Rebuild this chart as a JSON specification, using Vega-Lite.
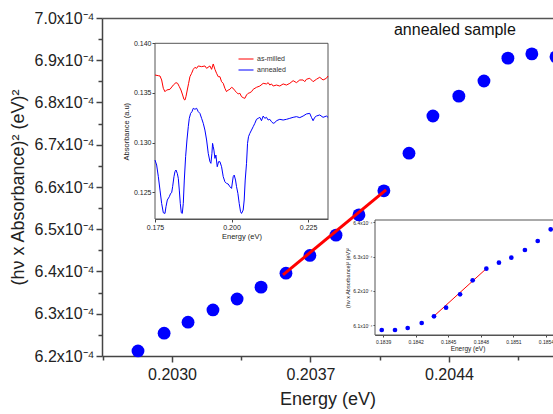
{
  "$schema": "https://vega.github.io/schema/vega-lite/v6.json",
  "width": 451,
  "height": 338,
  "autosize": {"type": "none"},
  "padding": {"left": 102, "top": 18, "right": 0, "bottom": 58},
  "background": "white",
  "config": {
    "font": "Liberation Sans",
    "view": {"stroke": null},
    "axis": {"grid": false, "labelFont": "Liberation Sans", "titleFont": "Liberation Sans", "titleFontWeight": "normal", "domainColor": "#444", "tickColor": "#444", "labelColor": "#222", "titleColor": "#222", "labelFlush": false, "labelOverlap": false}
  },
  "datasets": {
    "main": [
      {"E": 0.202828, "V": 0.0006212},
      {"E": 0.202960, "V": 0.0006254},
      {"E": 0.203081, "V": 0.0006280},
      {"E": 0.203207, "V": 0.0006309},
      {"E": 0.203329, "V": 0.0006335},
      {"E": 0.203450, "V": 0.0006363},
      {"E": 0.203576, "V": 0.0006396},
      {"E": 0.203697, "V": 0.0006438},
      {"E": 0.203829, "V": 0.0006486},
      {"E": 0.203945, "V": 0.0006534},
      {"E": 0.204071, "V": 0.0006591},
      {"E": 0.204198, "V": 0.0006680},
      {"E": 0.204319, "V": 0.0006768},
      {"E": 0.204450, "V": 0.0006815},
      {"E": 0.204577, "V": 0.0006851},
      {"E": 0.204698, "V": 0.0006905},
      {"E": 0.204819, "V": 0.0006915},
      {"E": 0.204941, "V": 0.0006908}
    ],
    "mainfit": [
      {"E": 0.203561, "V": 0.0006392},
      {"E": 0.204082, "V": 0.0006593}
    ],
    "inset2": [
      {"E": 0.183888, "V": 0.00060857},
      {"E": 0.184010, "V": 0.00060857},
      {"E": 0.184127, "V": 0.00060915},
      {"E": 0.184256, "V": 0.00061061},
      {"E": 0.184369, "V": 0.00061257},
      {"E": 0.184480, "V": 0.00061509},
      {"E": 0.184609, "V": 0.00061901},
      {"E": 0.184725, "V": 0.00062310},
      {"E": 0.184851, "V": 0.00062649},
      {"E": 0.184967, "V": 0.00062825},
      {"E": 0.185081, "V": 0.00062971},
      {"E": 0.185206, "V": 0.00063196},
      {"E": 0.185324, "V": 0.00063459},
      {"E": 0.185443, "V": 0.00063801}
    ],
    "inset2fit": [
      {"E": 0.184363, "V": 0.00061246},
      {"E": 0.184854, "V": 0.00062661}
    ],
    "absorb": [
      {"sample": "as-milled", "E": 0.17500, "A": 0.13681},
      {"sample": "as-milled", "E": 0.17609, "A": 0.13674},
      {"sample": "as-milled", "E": 0.17663, "A": 0.13671},
      {"sample": "as-milled", "E": 0.17717, "A": 0.13631},
      {"sample": "as-milled", "E": 0.17772, "A": 0.13547},
      {"sample": "as-milled", "E": 0.17826, "A": 0.13513},
      {"sample": "as-milled", "E": 0.17880, "A": 0.13530},
      {"sample": "as-milled", "E": 0.17989, "A": 0.13537},
      {"sample": "as-milled", "E": 0.18098, "A": 0.13580},
      {"sample": "as-milled", "E": 0.18185, "A": 0.13604},
      {"sample": "as-milled", "E": 0.18239, "A": 0.13597},
      {"sample": "as-milled", "E": 0.18294, "A": 0.13564},
      {"sample": "as-milled", "E": 0.18348, "A": 0.13530},
      {"sample": "as-milled", "E": 0.18402, "A": 0.13480},
      {"sample": "as-milled", "E": 0.18446, "A": 0.13436},
      {"sample": "as-milled", "E": 0.18478, "A": 0.13429},
      {"sample": "as-milled", "E": 0.18511, "A": 0.13463},
      {"sample": "as-milled", "E": 0.18554, "A": 0.13530},
      {"sample": "as-milled", "E": 0.18598, "A": 0.13597},
      {"sample": "as-milled", "E": 0.18641, "A": 0.13664},
      {"sample": "as-milled", "E": 0.18696, "A": 0.13698},
      {"sample": "as-milled", "E": 0.18750, "A": 0.13738},
      {"sample": "as-milled", "E": 0.18804, "A": 0.13758},
      {"sample": "as-milled", "E": 0.18859, "A": 0.13748},
      {"sample": "as-milled", "E": 0.18913, "A": 0.13772},
      {"sample": "as-milled", "E": 0.19022, "A": 0.13765},
      {"sample": "as-milled", "E": 0.19130, "A": 0.13772},
      {"sample": "as-milled", "E": 0.19185, "A": 0.13748},
      {"sample": "as-milled", "E": 0.19294, "A": 0.13772},
      {"sample": "as-milled", "E": 0.19348, "A": 0.13738},
      {"sample": "as-milled", "E": 0.19402, "A": 0.13792},
      {"sample": "as-milled", "E": 0.19457, "A": 0.13738},
      {"sample": "as-milled", "E": 0.19511, "A": 0.13698},
      {"sample": "as-milled", "E": 0.19565, "A": 0.13664},
      {"sample": "as-milled", "E": 0.19620, "A": 0.13664},
      {"sample": "as-milled", "E": 0.19674, "A": 0.13614},
      {"sample": "as-milled", "E": 0.19728, "A": 0.13597},
      {"sample": "as-milled", "E": 0.19783, "A": 0.13547},
      {"sample": "as-milled", "E": 0.19837, "A": 0.13513},
      {"sample": "as-milled", "E": 0.19891, "A": 0.13530},
      {"sample": "as-milled", "E": 0.19946, "A": 0.13537},
      {"sample": "as-milled", "E": 0.20000, "A": 0.13557},
      {"sample": "as-milled", "E": 0.20054, "A": 0.13547},
      {"sample": "as-milled", "E": 0.20109, "A": 0.13523},
      {"sample": "as-milled", "E": 0.20163, "A": 0.13507},
      {"sample": "as-milled", "E": 0.20217, "A": 0.13490},
      {"sample": "as-milled", "E": 0.20272, "A": 0.13497},
      {"sample": "as-milled", "E": 0.20326, "A": 0.13463},
      {"sample": "as-milled", "E": 0.20380, "A": 0.13453},
      {"sample": "as-milled", "E": 0.20435, "A": 0.13446},
      {"sample": "as-milled", "E": 0.20489, "A": 0.13480},
      {"sample": "as-milled", "E": 0.20543, "A": 0.13497},
      {"sample": "as-milled", "E": 0.20598, "A": 0.13503},
      {"sample": "as-milled", "E": 0.20652, "A": 0.13513},
      {"sample": "as-milled", "E": 0.20707, "A": 0.13537},
      {"sample": "as-milled", "E": 0.20815, "A": 0.13557},
      {"sample": "as-milled", "E": 0.20924, "A": 0.13570},
      {"sample": "as-milled", "E": 0.21033, "A": 0.13597},
      {"sample": "as-milled", "E": 0.21141, "A": 0.13591},
      {"sample": "as-milled", "E": 0.21196, "A": 0.13604},
      {"sample": "as-milled", "E": 0.21250, "A": 0.13580},
      {"sample": "as-milled", "E": 0.21304, "A": 0.13591},
      {"sample": "as-milled", "E": 0.21359, "A": 0.13570},
      {"sample": "as-milled", "E": 0.21467, "A": 0.13580},
      {"sample": "as-milled", "E": 0.21576, "A": 0.13570},
      {"sample": "as-milled", "E": 0.21685, "A": 0.13591},
      {"sample": "as-milled", "E": 0.21794, "A": 0.13580},
      {"sample": "as-milled", "E": 0.21902, "A": 0.13597},
      {"sample": "as-milled", "E": 0.22011, "A": 0.13624},
      {"sample": "as-milled", "E": 0.22120, "A": 0.13604},
      {"sample": "as-milled", "E": 0.22228, "A": 0.13631},
      {"sample": "as-milled", "E": 0.22337, "A": 0.13631},
      {"sample": "as-milled", "E": 0.22391, "A": 0.13614},
      {"sample": "as-milled", "E": 0.22446, "A": 0.13638},
      {"sample": "as-milled", "E": 0.22554, "A": 0.13648},
      {"sample": "as-milled", "E": 0.22663, "A": 0.13614},
      {"sample": "as-milled", "E": 0.22772, "A": 0.13638},
      {"sample": "as-milled", "E": 0.22880, "A": 0.13658},
      {"sample": "as-milled", "E": 0.22989, "A": 0.13631},
      {"sample": "as-milled", "E": 0.23098, "A": 0.13648},
      {"sample": "as-milled", "E": 0.23152, "A": 0.13671},
      {"sample": "annealed", "E": 0.17500, "A": 0.12825},
      {"sample": "annealed", "E": 0.17554, "A": 0.12775},
      {"sample": "annealed", "E": 0.17609, "A": 0.12658},
      {"sample": "annealed", "E": 0.17663, "A": 0.12523},
      {"sample": "annealed", "E": 0.17717, "A": 0.12389},
      {"sample": "annealed", "E": 0.17772, "A": 0.12295},
      {"sample": "annealed", "E": 0.17826, "A": 0.12288},
      {"sample": "annealed", "E": 0.17859, "A": 0.12356},
      {"sample": "annealed", "E": 0.17902, "A": 0.12423},
      {"sample": "annealed", "E": 0.17967, "A": 0.12456},
      {"sample": "annealed", "E": 0.18011, "A": 0.12490},
      {"sample": "annealed", "E": 0.18044, "A": 0.12497},
      {"sample": "annealed", "E": 0.18076, "A": 0.12557},
      {"sample": "annealed", "E": 0.18120, "A": 0.12658},
      {"sample": "annealed", "E": 0.18152, "A": 0.12708},
      {"sample": "annealed", "E": 0.18185, "A": 0.12725},
      {"sample": "annealed", "E": 0.18228, "A": 0.12691},
      {"sample": "annealed", "E": 0.18261, "A": 0.12641},
      {"sample": "annealed", "E": 0.18294, "A": 0.12523},
      {"sample": "annealed", "E": 0.18326, "A": 0.12389},
      {"sample": "annealed", "E": 0.18359, "A": 0.12295},
      {"sample": "annealed", "E": 0.18391, "A": 0.12288},
      {"sample": "annealed", "E": 0.18424, "A": 0.12389},
      {"sample": "annealed", "E": 0.18457, "A": 0.12624},
      {"sample": "annealed", "E": 0.18500, "A": 0.12859},
      {"sample": "annealed", "E": 0.18544, "A": 0.13027},
      {"sample": "annealed", "E": 0.18587, "A": 0.13161},
      {"sample": "annealed", "E": 0.18620, "A": 0.13245},
      {"sample": "annealed", "E": 0.18663, "A": 0.13295},
      {"sample": "annealed", "E": 0.18707, "A": 0.13312},
      {"sample": "annealed", "E": 0.18750, "A": 0.13346},
      {"sample": "annealed", "E": 0.18804, "A": 0.13336},
      {"sample": "annealed", "E": 0.18859, "A": 0.13346},
      {"sample": "annealed", "E": 0.18913, "A": 0.13312},
      {"sample": "annealed", "E": 0.18967, "A": 0.13295},
      {"sample": "annealed", "E": 0.19022, "A": 0.13245},
      {"sample": "annealed", "E": 0.19076, "A": 0.13195},
      {"sample": "annealed", "E": 0.19130, "A": 0.13127},
      {"sample": "annealed", "E": 0.19185, "A": 0.13027},
      {"sample": "annealed", "E": 0.19239, "A": 0.12893},
      {"sample": "annealed", "E": 0.19294, "A": 0.12809},
      {"sample": "annealed", "E": 0.19326, "A": 0.12792},
      {"sample": "annealed", "E": 0.19359, "A": 0.12893},
      {"sample": "annealed", "E": 0.19380, "A": 0.12993},
      {"sample": "annealed", "E": 0.19402, "A": 0.12960},
      {"sample": "annealed", "E": 0.19424, "A": 0.12926},
      {"sample": "annealed", "E": 0.19457, "A": 0.12842},
      {"sample": "annealed", "E": 0.19489, "A": 0.12876},
      {"sample": "annealed", "E": 0.19533, "A": 0.12758},
      {"sample": "annealed", "E": 0.19576, "A": 0.12809},
      {"sample": "annealed", "E": 0.19620, "A": 0.12809},
      {"sample": "annealed", "E": 0.19674, "A": 0.12758},
      {"sample": "annealed", "E": 0.19728, "A": 0.12658},
      {"sample": "annealed", "E": 0.19783, "A": 0.12607},
      {"sample": "annealed", "E": 0.19837, "A": 0.12590},
      {"sample": "annealed", "E": 0.19891, "A": 0.12584},
      {"sample": "annealed", "E": 0.19946, "A": 0.12557},
      {"sample": "annealed", "E": 0.20000, "A": 0.12540},
      {"sample": "annealed", "E": 0.20054, "A": 0.12658},
      {"sample": "annealed", "E": 0.20087, "A": 0.12674},
      {"sample": "annealed", "E": 0.20130, "A": 0.12624},
      {"sample": "annealed", "E": 0.20163, "A": 0.12557},
      {"sample": "annealed", "E": 0.20207, "A": 0.12490},
      {"sample": "annealed", "E": 0.20250, "A": 0.12389},
      {"sample": "annealed", "E": 0.20294, "A": 0.12305},
      {"sample": "annealed", "E": 0.20326, "A": 0.12288},
      {"sample": "annealed", "E": 0.20380, "A": 0.12322},
      {"sample": "annealed", "E": 0.20413, "A": 0.12423},
      {"sample": "annealed", "E": 0.20446, "A": 0.12624},
      {"sample": "annealed", "E": 0.20489, "A": 0.12792},
      {"sample": "annealed", "E": 0.20522, "A": 0.12993},
      {"sample": "annealed", "E": 0.20554, "A": 0.13060},
      {"sample": "annealed", "E": 0.20598, "A": 0.13094},
      {"sample": "annealed", "E": 0.20652, "A": 0.13127},
      {"sample": "annealed", "E": 0.20707, "A": 0.13161},
      {"sample": "annealed", "E": 0.20761, "A": 0.13195},
      {"sample": "annealed", "E": 0.20815, "A": 0.13235},
      {"sample": "annealed", "E": 0.20870, "A": 0.13245},
      {"sample": "annealed", "E": 0.20924, "A": 0.13255},
      {"sample": "annealed", "E": 0.20978, "A": 0.13221},
      {"sample": "annealed", "E": 0.21033, "A": 0.13268},
      {"sample": "annealed", "E": 0.21087, "A": 0.13245},
      {"sample": "annealed", "E": 0.21141, "A": 0.13255},
      {"sample": "annealed", "E": 0.21196, "A": 0.13228},
      {"sample": "annealed", "E": 0.21250, "A": 0.13235},
      {"sample": "annealed", "E": 0.21304, "A": 0.13211},
      {"sample": "annealed", "E": 0.21359, "A": 0.13195},
      {"sample": "annealed", "E": 0.21413, "A": 0.13201},
      {"sample": "annealed", "E": 0.21467, "A": 0.13221},
      {"sample": "annealed", "E": 0.21576, "A": 0.13235},
      {"sample": "annealed", "E": 0.21685, "A": 0.13228},
      {"sample": "annealed", "E": 0.21794, "A": 0.13235},
      {"sample": "annealed", "E": 0.21902, "A": 0.13245},
      {"sample": "annealed", "E": 0.22011, "A": 0.13255},
      {"sample": "annealed", "E": 0.22120, "A": 0.13262},
      {"sample": "annealed", "E": 0.22228, "A": 0.13252},
      {"sample": "annealed", "E": 0.22337, "A": 0.13268},
      {"sample": "annealed", "E": 0.22446, "A": 0.13289},
      {"sample": "annealed", "E": 0.22554, "A": 0.13295},
      {"sample": "annealed", "E": 0.22609, "A": 0.13255},
      {"sample": "annealed", "E": 0.22663, "A": 0.13221},
      {"sample": "annealed", "E": 0.22717, "A": 0.13255},
      {"sample": "annealed", "E": 0.22772, "A": 0.13268},
      {"sample": "annealed", "E": 0.22880, "A": 0.13279},
      {"sample": "annealed", "E": 0.22989, "A": 0.13255},
      {"sample": "annealed", "E": 0.23098, "A": 0.13268},
      {"sample": "annealed", "E": 0.23152, "A": 0.13255}
    ]
  },
  "layer": [
    {
      "data": {"name": "main"},
      "mark": {"type": "point", "filled": true, "color": "#0000ff", "opacity": 1, "size": 165, "strokeWidth": 0},
      "encoding": {
        "x": {"field": "E", "type": "quantitative", "scale": {"domain": [0.202646, 0.204926], "zero": false, "nice": false},
          "axis": {"orient": "bottom", "title": "Energy (eV)", "titleFontSize": 18, "labelFontSize": 16, "domainWidth": 1.5, "tickWidth": 1.5,
            "values": [0.20265, 0.203, 0.20335, 0.2037, 0.20405, 0.2044, 0.20475],
            "labelExpr": "abs((datum.value-0.203)/0.0007 - round((datum.value-0.203)/0.0007)) < 0.01 ? format(datum.value, '.4f') : ''",
            "tickSize": {"condition": {"test": "abs((datum.value-0.203)/0.0007 - round((datum.value-0.203)/0.0007)) < 0.01", "value": 6}, "value": 4},
            "labelPadding": 4, "titlePadding": 8}},
        "y": {"field": "V", "type": "quantitative", "scale": {"domain": [0.00062, 0.0007], "zero": false, "nice": false},
          "axis": {"orient": "left", "title": "(hν x Absorbance)² (eV)²", "titleFontSize": 18, "labelFontSize": 16, "domainWidth": 1.5, "tickWidth": 1.5,
            "values": [0.00062, 0.000625, 0.00063, 0.000635, 0.00064, 0.000645, 0.00065, 0.000655, 0.00066, 0.000665, 0.00067, 0.000675, 0.00068, 0.000685, 0.00069, 0.000695, 0.0007],
            "labelExpr": "abs(datum.value*100000 - round(datum.value*100000)) < 0.01 ? format(datum.value*10000, '.1f') + 'x10⁻⁴' : ''",
            "tickSize": {"condition": {"test": "abs(datum.value*100000 - round(datum.value*100000)) < 0.01", "value": 6}, "value": 4},
            "labelPadding": 2, "titlePadding": 7}}
      }
    },
    {
      "data": {"name": "mainfit"},
      "mark": {"type": "line", "color": "#ff0000", "strokeWidth": 3},
      "encoding": {
        "x": {"field": "E", "type": "quantitative", "scale": {"domain": [0.202646, 0.204926], "zero": false, "nice": false},
          "axis": {"orient": "top", "labels": false, "ticks": false, "title": null, "domainColor": "#555", "domainWidth": 1.5}},
        "y": {"field": "V", "type": "quantitative", "scale": {"domain": [0.00062, 0.0007], "zero": false, "nice": false}, "axis": null}
      }
    },
    {
      "data": {"values": [{}]},
      "mark": {"type": "text", "fontSize": 16, "color": "#111", "align": "center", "baseline": "middle", "font": "Liberation Sans"},
      "encoding": {
        "x": {"datum": 0.20443, "type": "quantitative", "scale": {"domain": [0.202646, 0.204926], "zero": false, "nice": false}, "axis": null},
        "y": {"datum": 0.00069716, "type": "quantitative", "scale": {"domain": [0.00062, 0.0007], "zero": false, "nice": false}, "axis": null},
        "text": {"value": "annealed sample"}
      }
    },
    {
      "data": {"values": [{}]},
      "mark": {"type": "rect", "fill": "white", "stroke": "#555", "strokeWidth": 1},
      "encoding": {
        "x": {"datum": 0.175, "type": "quantitative", "scale": {"domain": [0.175, 0.2315], "range": [53, 226], "zero": false, "nice": false},
          "axis": {"orient": "bottom", "offset": -137, "values": [0.175, 0.2, 0.225], "format": ".3f", "labelFontSize": 7, "title": "Energy (eV)", "titleFontSize": 7.5, "tickSize": 3, "labelPadding": 1, "titlePadding": 2, "domainColor": "#555", "domainWidth": 1}},
        "x2": {"datum": 0.2315},
        "y": {"datum": 0.12232, "type": "quantitative", "scale": {"domain": [0.12232, 0.14], "range": [201, 25.3], "zero": false, "nice": false},
          "axis": {"orient": "left", "offset": -53, "values": [0.125, 0.13, 0.135, 0.14], "format": ".3f", "labelFontSize": 7, "title": "Absorbance (a.u)", "titleFontSize": 7.5, "tickSize": 3, "labelPadding": 1, "titlePadding": 3, "domainColor": "#555", "domainWidth": 1}},
        "y2": {"datum": 0.14}
      }
    },
    {
      "data": {"name": "absorb"},
      "mark": {"type": "line", "strokeWidth": 1},
      "encoding": {
        "x": {"field": "E", "type": "quantitative", "scale": {"domain": [0.175, 0.2315], "range": [53, 226], "zero": false, "nice": false}, "axis": null},
        "y": {"field": "A", "type": "quantitative", "scale": {"domain": [0.12232, 0.14], "range": [201, 25.3], "zero": false, "nice": false}, "axis": null},
        "color": {"field": "sample", "type": "nominal", "scale": {"domain": ["as-milled", "annealed"], "range": ["#ff0000", "#0000ff"]},
          "legend": {"orient": "none", "legendX": 136, "legendY": 33, "title": null, "symbolType": "stroke", "symbolSize": 225, "symbolStrokeWidth": 1, "labelFontSize": 7, "labelColor": "#333", "labelOffset": 3, "rowPadding": -8}}
      }
    },
    {
      "data": {"values": [{}]},
      "mark": {"type": "rect", "fill": "white", "stroke": "#555", "strokeWidth": 1},
      "encoding": {
        "x": {"datum": 0.183826, "type": "quantitative", "scale": {"domain": [0.183826, 0.185529], "range": [273, 458], "zero": false, "nice": false},
          "axis": {"orient": "bottom", "offset": -21, "values": [0.1839, 0.1842, 0.1845, 0.1848, 0.1851, 0.1854], "format": ".4f", "labelFontSize": 5, "title": "Energy (eV)", "titleFontSize": 6.5, "tickSize": 2, "labelPadding": 2, "titlePadding": 1, "domainColor": "#555", "domainWidth": 1}},
        "x2": {"datum": 0.185529},
        "y": {"datum": 0.00060711, "type": "quantitative", "scale": {"domain": [0.00060711, 0.00064073], "range": [317, 202], "zero": false, "nice": false},
          "axis": {"orient": "left", "offset": -273, "values": [0.00061, 0.00062, 0.00063, 0.00064], "labelExpr": "format(datum.value*10000, '.1f') + 'x10⁻⁴'", "labelFontSize": 5, "title": "(hν x Absorbance)² (eV)²", "titleFontSize": 5.5, "tickSize": 2, "labelPadding": 1, "titlePadding": 2, "domainColor": "#555", "domainWidth": 1}},
        "y2": {"datum": 0.00064073}
      }
    },
    {
      "data": {"name": "inset2fit"},
      "mark": {"type": "line", "color": "#ff0000", "strokeWidth": 1},
      "encoding": {
        "x": {"field": "E", "type": "quantitative", "scale": {"domain": [0.183826, 0.185529], "range": [273, 458], "zero": false, "nice": false}, "axis": null},
        "y": {"field": "V", "type": "quantitative", "scale": {"domain": [0.00060711, 0.00064073], "range": [317, 202], "zero": false, "nice": false}, "axis": null}
      }
    },
    {
      "data": {"name": "inset2"},
      "mark": {"type": "point", "filled": true, "color": "#0000ff", "opacity": 1, "size": 22, "strokeWidth": 0},
      "encoding": {
        "x": {"field": "E", "type": "quantitative", "scale": {"domain": [0.183826, 0.185529], "range": [273, 458], "zero": false, "nice": false}, "axis": null},
        "y": {"field": "V", "type": "quantitative", "scale": {"domain": [0.00060711, 0.00064073], "range": [317, 202], "zero": false, "nice": false}, "axis": null}
      }
    }
  ],
  "resolve": {"scale": {"x": "independent", "y": "independent", "color": "independent"}, "axis": {"x": "independent", "y": "independent"}}
}
